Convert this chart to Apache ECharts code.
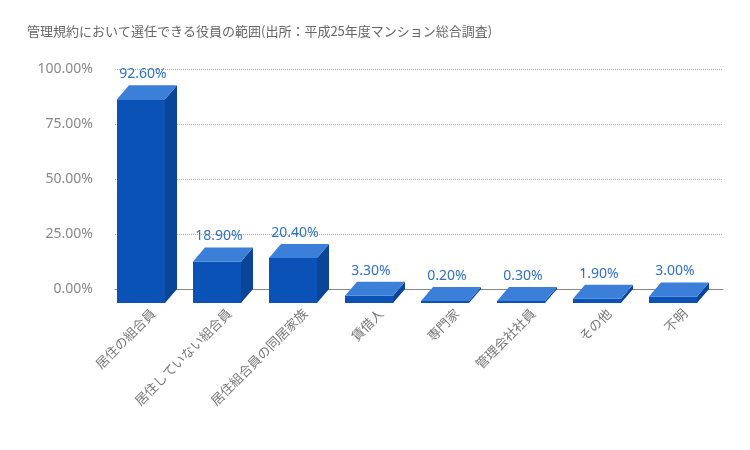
<!DOCTYPE html>
<html><head><meta charset="utf-8">
<script src="https://cdn.jsdelivr.net/npm/echarts@6/dist/echarts.min.js"></script>
<style>html,body{margin:0;padding:0;background:#fff}#c{width:750px;height:450px}</style>
</head><body><div id="c"></div>
<script>
const titleText = '管理規約において選任できる役員の範囲(出所：平成25年度マンション総合調査)';
const categories = ['居住の組合員','居住していない組合員','居住組合員の同居家族','賃借人','専門家','管理会社社員','その他','不明'];
const values = [92.6, 18.9, 20.4, 3.3, 0.2, 0.3, 1.9, 3.0];
const yTicks = [0, 25, 50, 75, 100];

const DX = 12, DY = 14, HALF = 24;
const chart = echarts.init(document.getElementById('c'));
chart.setOption({
  animation: false,
  title: { text: titleText, left: 22, top: 20, textStyle: { fontSize: 13, fontWeight: 'normal', color: '#666', fontFamily: 'Noto Sans CJK JP' } },
  grid: { left: 115, right: 27, top: 69, bottom: 161 },
  xAxis: { type: 'category', data: categories,
    axisLine: { lineStyle: { color: '#888' } }, axisTick: { show: false },
    axisLabel: { rotate: 45, margin: 22, color: '#777', fontSize: 13, fontFamily: 'Noto Sans CJK JP' } },
  yAxis: { type: 'value', min: yTicks[0], max: yTicks[yTicks.length-1], interval: 25,
    axisLabel: { formatter: v => v.toFixed(2) + '%', color: '#888', fontSize: 14, margin: 22, fontFamily: 'Noto Sans' },
    splitLine: { lineStyle: { type: 'dotted', color: '#aaa' } }, axisLine: { show: false } },
  series: [{
    type: 'custom',
    data: values.map((v, i) => [i, v]),
    renderItem: function (params, api) {
      const top = api.coord([api.value(0), api.value(1)]);
      const base = api.coord([api.value(0), 0]);
      const cx = top[0] - DX, ty = top[1] + DY, by = base[1] + DY;
      const th = Math.max(by - ty, 2);
      const x0 = cx - HALF, x1 = cx + HALF, yt = by - th;
      return { type: 'group', children: [
        { type: 'rect', shape: { x: x0, y: yt, width: 2*HALF, height: th }, style: { fill: '#0a52b6' } },
        { type: 'polygon', shape: { points: [[x1, yt], [x1+DX, yt-DY], [x1+DX, by-DY], [x1, by]] }, style: { fill: '#0b4597' } },
        { type: 'polygon', shape: { points: [[x0, yt], [x0+DX, yt-DY], [x1+DX, yt-DY], [x1, yt]] }, style: { fill: '#3b7fd9' } },
        { type: 'text', style: { text: api.value(1).toFixed(2) + '%', x: cx + 2, y: yt - DY - 4, align: 'center', verticalAlign: 'bottom', fill: '#2e6fcf', font: '14px Noto Sans' } }
      ]};
    }
  }]
});
</script></body></html>
